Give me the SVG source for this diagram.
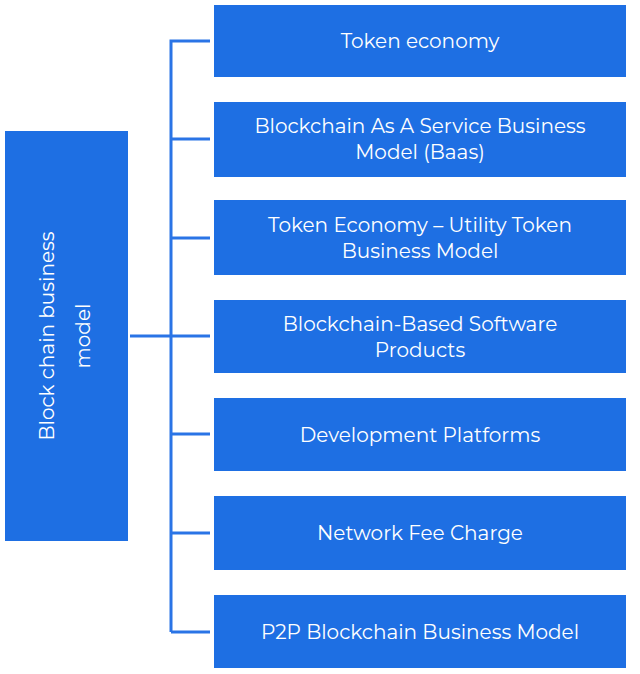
<svg xmlns="http://www.w3.org/2000/svg" width="640" height="674" viewBox="0 0 640 674">
<style>
.box{fill:#1e6fe3}
.t{font-family:Montserrat,"Noto Sans","Liberation Sans",sans-serif;font-size:20px;fill:#fff;text-anchor:middle}
.c{stroke:#2a74e6;stroke-width:3;fill:none}
</style>
<rect width="640" height="674" fill="#fff"/>
<g id="connectors">
<path class="c" d="M171 632 V41 H210"/>
<path class="c" d="M130 336 H171"/>
<path class="c" d="M171 139 H210 M171 238 H210 M171 336 H210 M171 434 H210 M171 533 H210 M171 632 H210"/>
</g>
<g id="root"><rect class="box" x="5" y="131" width="123" height="410"/>
<text class="t" font-size="31" transform="translate(66 336) rotate(-90)"><tspan x="0" y="-12">Block chain business</tspan><tspan x="0" y="24">model</tspan></text></g>
<g id="n1"><rect class="box" x="214" y="5" width="412" height="72"/><text class="t" x="420" y="48">Token economy</text></g>
<g id="n2"><rect class="box" x="214" y="102" width="412" height="75"/><text class="t" x="420" y="133">Blockchain As A Service Business</text><text class="t" x="420" y="159">Model (Baas)</text></g>
<g id="n3"><rect class="box" x="214" y="200" width="412" height="75"/><text class="t" x="420" y="232">Token Economy – Utility Token</text><text class="t" x="420" y="258">Business Model</text></g>
<g id="n4"><rect class="box" x="214" y="300" width="412" height="73"/><text class="t" x="420" y="331">Blockchain-Based Software</text><text class="t" x="420" y="357">Products</text></g>
<g id="n5"><rect class="box" x="214" y="398" width="412" height="73"/><text class="t" x="420" y="442">Development Platforms</text></g>
<g id="n6"><rect class="box" x="214" y="496" width="412" height="74"/><text class="t" x="420" y="540">Network Fee Charge</text></g>
<g id="n7"><rect class="box" x="214" y="595" width="412" height="73"/><text class="t" x="420" y="639">P2P Blockchain Business Model</text></g>
</svg>
